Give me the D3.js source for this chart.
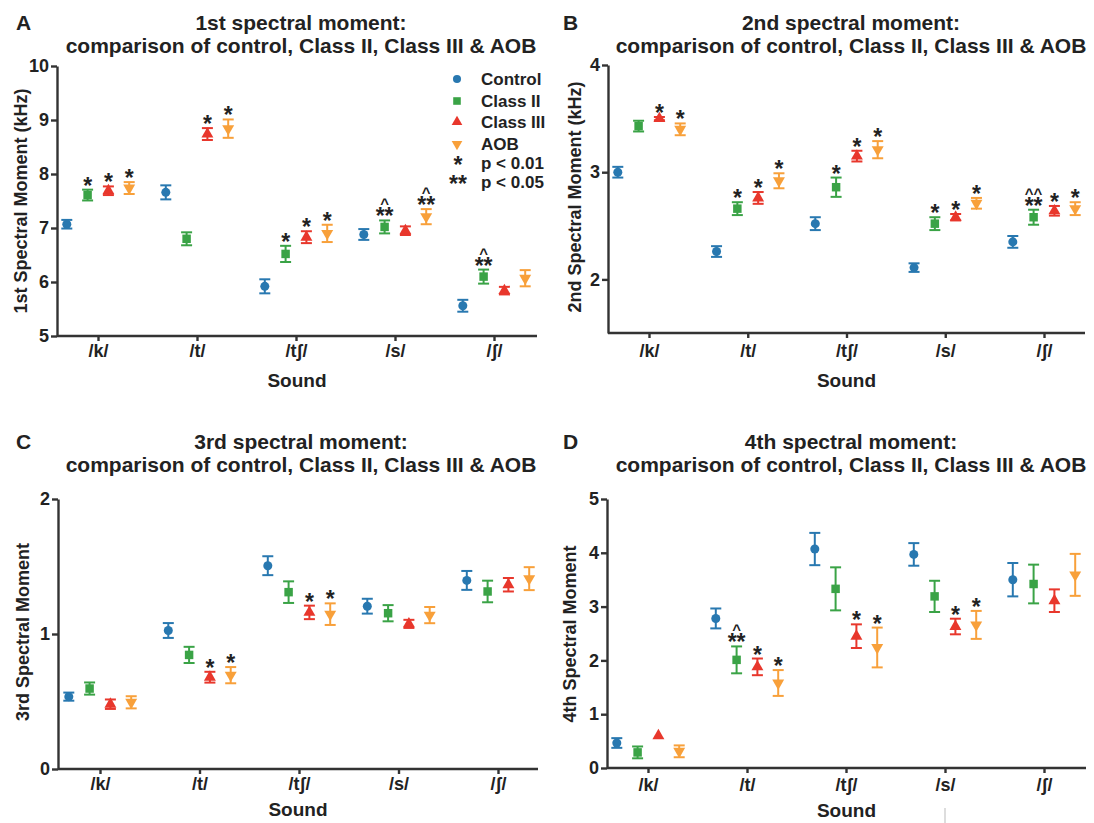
<!DOCTYPE html>
<html>
<head>
<meta charset="utf-8">
<script src="https://cdn.jsdelivr.net/npm/d3@7"></script>
<style>
    body { margin: 0; background: #fff; }
    svg text { font-family: "Liberation Sans", Arial, sans-serif; font-weight: bold; fill: #222; }
</style>
</head>
<body>
<svg id="fig" width="1094" height="823"></svg>
<script>
var sounds = ["/k/", "/t/", "/tʃ/", "/s/", "/ʃ/"];
var groups = ["Control", "Class II", "Class III", "AOB"];
var colors = ["#2878b0", "#3aa346", "#e8372c", "#f8a03a"];

// 1st moment (kHz) - one row per group, one value per sound
var m1Mean = [
    [7.07, 7.66, 5.92, 6.88, 5.56],
    [7.61, 6.80, 6.52, 7.02, 6.10],
    [7.69, 8.74, 6.83, 6.95, 5.84],
    [7.74, 8.84, 6.90, 7.21, 6.07]
];
var m1Err = [
    [0.08, 0.13, 0.13, 0.10, 0.11],
    [0.10, 0.12, 0.15, 0.12, 0.13],
    [0.08, 0.11, 0.11, 0.08, 0.07],
    [0.11, 0.17, 0.16, 0.14, 0.15]
];
var m1Sig = [
    ["", "", "", "", ""],
    ["*", "", "*", "^**", "^**"],
    ["*", "*", "*", "", ""],
    ["*", "*", "*", "^**", ""]
];
var m1Ticks = [5, 6, 7, 8, 9, 10];

// 2nd moment (kHz)
var m2Mean = [
    [3.00, 2.26, 2.52, 2.11, 2.35],
    [3.43, 2.66, 2.86, 2.52, 2.58],
    [3.50, 2.76, 3.15, 2.58, 2.64],
    [3.40, 2.92, 3.21, 2.71, 2.66]
];
var m2Err = [
    [0.05, 0.05, 0.06, 0.04, 0.055],
    [0.05, 0.06, 0.09, 0.06, 0.07],
    [0.015, 0.055, 0.05, 0.03, 0.045],
    [0.055, 0.07, 0.08, 0.05, 0.06]
];
var m2Sig = [
    ["", "", "", "", ""],
    ["", "*", "*", "*", "^^**"],
    ["*", "*", "*", "*", "*"],
    ["*", "*", "*", "*", "*"]
];
var m2Ticks = [2, 3, 4];

// 3rd moment
var m3Mean = [
    [0.536, 1.026, 1.506, 1.206, 1.397],
    [0.596, 0.845, 1.31, 1.154, 1.315],
    [0.48, 0.68, 1.16, 1.075, 1.365],
    [0.494, 0.695, 1.147, 1.14, 1.41]
];
var m3Err = [
    [0.03, 0.055, 0.07, 0.055, 0.07],
    [0.045, 0.06, 0.08, 0.06, 0.08],
    [0.035, 0.04, 0.05, 0.03, 0.05],
    [0.045, 0.06, 0.08, 0.06, 0.085]
];
var m3Sig = [
    ["", "", "", "", ""],
    ["", "", "", "", ""],
    ["", "*", "*", "", ""],
    ["", "*", "*", "", ""]
];
var m3Ticks = [0, 1, 2];

// 4th moment
var m4Mean = [
    [0.465, 2.78, 4.07, 3.97, 3.50],
    [0.29, 2.01, 3.33, 3.19, 3.42],
    [0.60, 1.88, 2.45, 2.63, 3.11],
    [0.31, 1.58, 2.24, 2.66, 3.59]
];
var m4Err = [
    [0.09, 0.185, 0.30, 0.21, 0.31],
    [0.11, 0.25, 0.40, 0.29, 0.36],
    [0, 0.155, 0.22, 0.145, 0.21],
    [0.11, 0.24, 0.37, 0.26, 0.39]
];
var m4Sig = [
    ["", "", "", "", ""],
    ["", "^**", "", "", ""],
    ["", "*", "*", "*", ""],
    ["", "*", "*", "*", ""]
];
var m4Ticks = [0, 1, 2, 3, 4, 5];

var legendLabels = ["Control", "Class II", "Class III", "AOB"];
var keyStars = ["*", "**"];
var keyText = ["p < 0.01", "p < 0.05"];

var panels = [
    { letter: "A", title: "1st spectral moment:", ylab: "1st Spectral Moment (kHz)",
      mean: m1Mean, err: m1Err, sig: m1Sig, ticks: m1Ticks, domain: [5, 10],
      lx: 16, tcx: 301, ty: 30, x0: 57, x1: 537, c0: 98, c1: 494, yTop: 66, yBot: 336,
      ylx: 20, ylcy: 201, catY: 357, soundY: 387, legend: true },
    { letter: "B", title: "2nd spectral moment:", ylab: "2nd Spectral Moment (kHz)",
      mean: m2Mean, err: m2Err, sig: m2Sig, ticks: m2Ticks, domain: [1.5, 4],
      lx: 563, tcx: 851, ty: 30, x0: 608, x1: 1085, c0: 649, c1: 1044, yTop: 65, yBot: 333,
      ylx: 574, ylcy: 197, catY: 357, soundY: 387 },
    { letter: "C", title: "3rd spectral moment:", ylab: "3rd Spectral Moment",
      mean: m3Mean, err: m3Err, sig: m3Sig, ticks: m3Ticks, domain: [0, 2],
      lx: 16, tcx: 301, ty: 449, x0: 58, x1: 538, c0: 100, c1: 498, yTop: 499, yBot: 769,
      ylx: 22, ylcy: 632, catY: 790, soundY: 816 },
    { letter: "D", title: "4th spectral moment:", ylab: "4th Spectral Moment",
      mean: m4Mean, err: m4Err, sig: m4Sig, ticks: m4Ticks, domain: [0, 5],
      lx: 563, tcx: 851, ty: 449, x0: 607, x1: 1086, c0: 648, c1: 1044, yTop: 499, yBot: 768,
      ylx: 569, ylcy: 634, catY: 791, soundY: 817 }
];

var AXIS_COL = "#333";
var STEP = 20.8; // spacing between groups inside one sound
var shapes = [d3.symbolCircle, d3.symbolSquare, d3.symbolTriangle, d3.symbolTriangle];
var sizes = [64, 72, 62, 62];
var rot = [0, 0, 0, 180];

var svg = d3.select("#fig");

panels.forEach(function (p) {
    var g = svg.append("g");

    // titles
    g.append("text").attr("x", p.lx).attr("y", p.ty)
        .style("font-size", "21px").text(p.letter);
    g.append("text").attr("x", p.tcx).attr("y", p.ty)
        .attr("text-anchor", "middle").style("font-size", "21px").text(p.title);
    g.append("text").attr("x", p.tcx).attr("y", p.ty + 23)
        .attr("text-anchor", "middle").style("font-size", "21px")
        .text("comparison of control, Class II, Class III & AOB");

    var x = d3.scalePoint().domain(sounds).range([p.c0, p.c1]);
    var y = d3.scaleLinear().domain(p.domain).range([p.yBot, p.yTop]);

    // y axis
    var ya = g.append("g").attr("transform", "translate(" + p.x0 + ",0)")
        .call(d3.axisLeft(y).tickValues(p.ticks).tickFormat(d3.format("d"))
            .tickSize(6).tickSizeOuter(0).tickPadding(2));
    ya.selectAll("text").style("font-size", "18px").style("font-family", null);

    // x axis - ticks + labels from d3, baseline drawn separately so it spans full width
    var fs = 18;
    var xa = g.append("g").attr("transform", "translate(0," + p.yBot + ")")
        .call(d3.axisBottom(x).tickSize(5).tickSizeOuter(0)
            .tickPadding(p.catY - p.yBot - 0.71 * fs - 5));
    xa.select(".domain").remove();
    xa.selectAll("text").style("font-size", fs + "px").style("font-family", null);
    g.append("line")
        .attr("x1", p.x0).attr("x2", p.x1)
        .attr("y1", p.yBot).attr("y2", p.yBot);

    g.selectAll(".domain, .tick line, line")
        .attr("stroke", AXIS_COL).attr("stroke-width", 2.4);

    // axis titles
    g.append("text").attr("x", (p.x0 + p.x1) / 2).attr("y", p.soundY)
        .attr("text-anchor", "middle").style("font-size", "19px").text("Sound");
    g.append("text")
        .attr("transform", "translate(" + (p.ylx + 6.5) + "," + p.ylcy + ") rotate(-90)")
        .attr("text-anchor", "middle").style("font-size", "18px").text(p.ylab);

    // data
    groups.forEach(function (grp, j) {
        var col = colors[j];
        var pts = sounds.map(function (s, i) {
            return { s: s, m: p.mean[j][i], e: p.err[j][i], sig: p.sig[j][i] };
        });
        var gg = g.append("g").attr("class", "series");
        var node = gg.selectAll("g.pt").data(pts).enter().append("g")
            .attr("class", "pt")
            .attr("transform", function (d) {
                return "translate(" + (x(d.s) + (j - 1.5) * STEP) + ",0)";
            });

        var withErr = node.filter(function (d) { return d.e > 0; });
        withErr.append("line")
            .attr("y1", function (d) { return y(d.m - d.e); })
            .attr("y2", function (d) { return y(d.m + d.e); })
            .attr("stroke", col).attr("stroke-width", 2);
        [1, -1].forEach(function (sgn) {
            withErr.append("line")
                .attr("x1", -5.5).attr("x2", 5.5)
                .attr("y1", function (d) { return y(d.m + sgn * d.e); })
                .attr("y2", function (d) { return y(d.m + sgn * d.e); })
                .attr("stroke", col).attr("stroke-width", 2);
        });

        node.append("path")
            .attr("d", d3.symbol().type(shapes[j]).size(sizes[j]))
            .attr("transform", function (d) {
                return "translate(0," + y(d.m) + ") rotate(" + rot[j] + ")";
            })
            .attr("fill", col);

        // significance marks: stars just above the bar, carets a line higher
        var sig = node.filter(function (d) { return d.sig !== ""; });
        sig.append("text")
            .attr("text-anchor", "middle")
            .attr("y", function (d) { return y(d.m + d.e) + 4; })
            .style("font-size", "23px")
            .text(function (d) { return d.sig.replace(/\^/g, ""); });
        sig.filter(function (d) { return d.sig.indexOf("^") >= 0; })
            .append("text")
            .attr("text-anchor", "middle")
            .attr("y", function (d) { return y(d.m + d.e) - 11; })
            .style("font-size", "15px")
            .text(function (d) { return d.sig.replace(/\*/g, ""); });
    });

    // legend (panel A only)
    if (p.legend) {
        var lg = g.append("g").attr("transform", "translate(457,0)");
        var rowY = [79, 101, 122, 144];
        legendLabels.forEach(function (lab, j) {
            lg.append("path")
                .attr("d", d3.symbol().type(shapes[j]).size(sizes[j] * 0.8))
                .attr("transform", "translate(0," + rowY[j] + ") rotate(" + rot[j] + ")")
                .attr("fill", colors[j]);
            lg.append("text").attr("x", 24).attr("y", rowY[j] + 6)
                .style("font-size", "17px").text(lab);
        });
        var keyY = [169, 188];
        keyStars.forEach(function (st, k) {
            lg.append("text").attr("x", 1).attr("y", keyY[k] + 4).attr("text-anchor", "middle")
                .style("font-size", "23px").text(st);
            lg.append("text").attr("x", 24).attr("y", keyY[k])
                .style("font-size", "17px").text(keyText[k]);
        });
    }
});

// faint scan mark under panel D
svg.append("line")
    .attr("x1", 945).attr("x2", 945).attr("y1", 808).attr("y2", 823)
    .attr("stroke", "#bbb").attr("stroke-width", 1);
</script>
</body>
</html>
